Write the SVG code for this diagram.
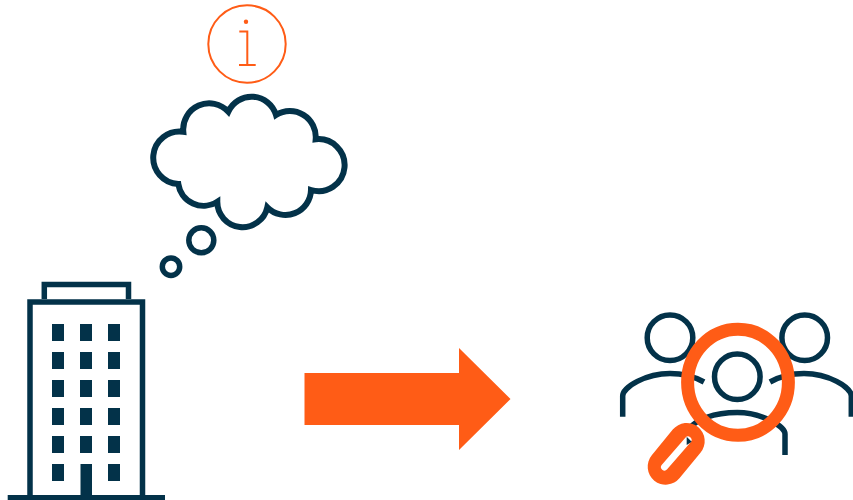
<svg xmlns="http://www.w3.org/2000/svg" width="853" height="500" viewBox="0 0 853 500">
<style>
.n{fill:none;stroke:#033249;stroke-width:5.5}
.c{stroke-width:6}
.w{fill:#033249}
.o{fill:none;stroke:#ff5c16}
</style>
<rect width="853" height="500" fill="#fff"/>
<g id="info">
<circle class="o" cx="247" cy="44" r="38.700" stroke-width="2"/>
<circle cx="246" cy="21.700" r="2.200" fill="#ff5c16"/>
<path class="o" stroke-width="2" d="M239.300 31.500H247.300V65M239 65H255.700"/>
</g>
<g id="cloud">
<path class="n c" d="M228.300 111.700A25.500 25.500 0 0 1 276 115A26 26 0 0 1 315.700 139.300A26 26 0 1 1 311 190A25.500 25.500 0 0 1 267.300 207.300A25.300 25.300 0 0 1 217.300 201.700A25.500 25.500 0 0 1 178.300 184A26.300 26.300 0 1 1 183.300 131.700A26 26 0 0 1 228.300 111.700Z"/>
<circle class="n" cx="201.300" cy="240.300" r="12.500"/>
<circle class="n" cx="171" cy="266.700" r="8.700"/>
</g>
<g id="building">
<path class="n" d="M30 497V302H142.500V497M44.300 299V284.500H128.500V299"/>
<rect class="w" x="7.700" y="495" width="157.300" height="5"/>
<g class="w">
<rect x="52" y="324" width="12" height="17"/><rect x="80" y="324" width="12" height="17"/><rect x="108" y="324" width="12" height="17"/>
<rect x="52" y="352" width="12" height="17"/><rect x="80" y="352" width="12" height="17"/><rect x="108" y="352" width="12" height="17"/>
<rect x="52" y="380" width="12" height="17"/><rect x="80" y="380" width="12" height="17"/><rect x="108" y="380" width="12" height="17"/>
<rect x="52" y="408" width="12" height="17"/><rect x="80" y="408" width="12" height="17"/><rect x="108" y="408" width="12" height="17"/>
<rect x="52" y="436" width="12" height="17"/><rect x="80" y="436" width="12" height="17"/><rect x="108" y="436" width="12" height="17"/>
<rect x="52" y="464" width="12" height="17"/><rect x="80.500" y="464" width="11.500" height="33"/><rect x="108" y="464" width="12" height="17"/>
</g>
</g>
<g id="connectors">
<polygon fill="#ff5c16" points="304.500,373 459,373 459,348 510.500,399 459,450 459,425 304.500,425"/>
</g>
<g id="people">
<circle class="n" cx="670" cy="337.700" r="22.800"/>
<circle class="n" cx="804.700" cy="337.700" r="22.800"/>
<circle class="n" cx="737.300" cy="376.700" r="22.800"/>
<path class="n" d="M622.700 416.700V396C622.700 387 646 373.500 670 373.500C684 373.500 695 377 704 382"/>
<path class="n" d="M851.300 416.700V396C851.300 387 828 373.500 804 373.500C790 373.500 779 377 770 382"/>
<path class="n" d="M785 455V434C785 426 761 412.500 737.300 412.500C713 412.500 696 420 690 428"/>
</g>
<g id="magnifier">
<ellipse class="o" cx="738" cy="382.300" rx="50.400" ry="53" stroke-width="13"/>
<path class="o" stroke-width="36" stroke-linecap="round" d="M665.700 466.700L686.700 441"/>
<path class="o" stroke-width="7" stroke-linecap="round" d="M664.500 467L688 440" style="stroke:#fff"/>
<polygon class="w" points="686.700,436.700 691.700,441.700 686.700,445"/>
</g>
</svg>
